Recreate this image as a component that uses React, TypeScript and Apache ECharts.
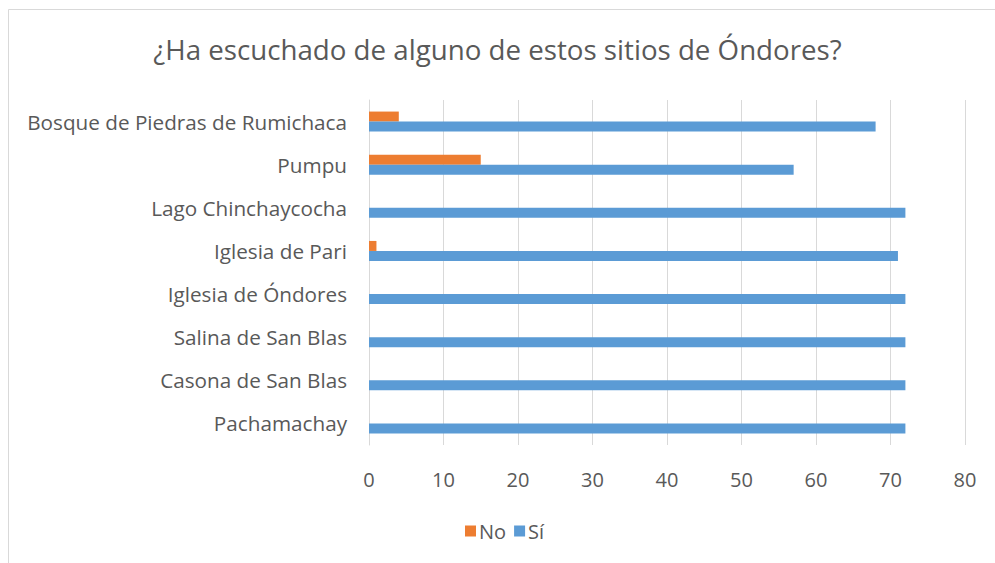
import React, { useEffect, useRef } from "react";
import * as echarts from "echarts";

const categories = [
  "Pachamachay",
  "Casona de San Blas",
  "Salina de San Blas",
  "Iglesia de Óndores",
  "Iglesia de Pari",
  "Lago Chinchaycocha",
  "Pumpu",
  "Bosque de Piedras de Rumichaca",
];
const noValues = [0, 0, 0, 0, 1, 0, 15, 4];
const siValues = [72, 72, 72, 72, 71, 72, 57, 68];
const xTicks = { min: 0, max: 80, interval: 10 };

const FONT = "'Open Sans', sans-serif";
const TEXT = "#595959";

export default function App() {
  const ref = useRef<HTMLDivElement>(null);
  useEffect(() => {
    if (!ref.current) return;
    const chart = echarts.init(ref.current, undefined, { renderer: "svg" });
    chart.setOption({
      animation: false,
      backgroundColor: "#ffffff",
      textStyle: { fontFamily: FONT, color: TEXT },
      title: {
        text: "¿Ha escuchado de alguno de estos sitios de Óndores?",
        left: "center",
        top: 30,
        textStyle: { fontFamily: FONT, fontSize: 27.7, fontWeight: "normal", color: TEXT },
      },
      graphic: [
        {
          type: "rect",
          shape: { x: 8.5, y: 9.5, width: 1200, height: 800 },
          style: { fill: "none", stroke: "#d9d9d9", lineWidth: 1 },
          silent: true,
        },
      ],
      legend: {
        data: ["No", "Sí"],
        top: 516,
        left: 460,
        itemWidth: 11,
        itemHeight: 11,
        itemGap: 8,
        icon: "rect",
        textStyle: { fontFamily: FONT, fontSize: 20, color: TEXT, padding: [0, 0, 0, -2] },
      },
      grid: { left: 369, right: 30, top: 100, bottom: 118, containLabel: false },
      xAxis: {
        type: "value",
        min: xTicks.min,
        max: xTicks.max,
        interval: xTicks.interval,
        axisLine: { show: false },
        axisTick: { show: false },
        axisLabel: { fontFamily: FONT, fontSize: 20, color: TEXT, margin: 24 },
        splitLine: { show: true, lineStyle: { color: "#d9d9d9", width: 1 } },
      },
      yAxis: {
        type: "category",
        data: categories,
        axisLine: { show: true, lineStyle: { color: "#d9d9d9", width: 1 } },
        axisTick: { show: false },
        axisLabel: { fontFamily: FONT, fontSize: 20.7, color: TEXT, margin: 22 },
      },
      series: [
        {
          name: "No",
          type: "bar",
          data: noValues,
          barWidth: 10,
          barGap: "0%",
          itemStyle: { color: "#ED7D31" },
        },
        {
          name: "Sí",
          type: "bar",
          data: siValues,
          barWidth: 10,
          barGap: "0%",
          itemStyle: { color: "#5B9BD5" },
        },
      ],
    });
    return () => chart.dispose();
  }, []);
  return (
    <div
      ref={ref}
      style={{ position: "absolute", left: 0, top: 0, width: 995, height: 563 }}
    />
  );
}
